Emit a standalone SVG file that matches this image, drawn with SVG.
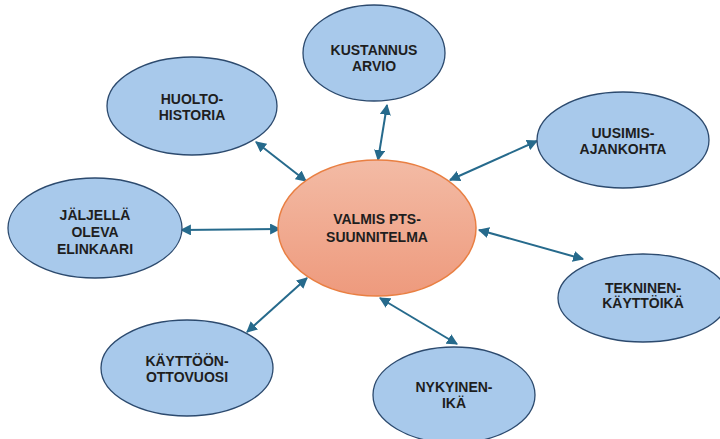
<svg xmlns="http://www.w3.org/2000/svg" width="720" height="439" viewBox="0 0 720 439">
<style>
.n{fill:#a8c9eb;stroke:#2c4a6e;stroke-width:1.3}
.t{font-family:"Liberation Sans",Arial,sans-serif;font-weight:bold;font-size:14px;fill:#1e1e1e;text-anchor:middle}
.c{stroke:#266a8c;stroke-width:2;fill:none;marker-start:url(#ah);marker-end:url(#ah)}
</style>
<defs>
<linearGradient id="g" x1="0" y1="0" x2="0" y2="1">
<stop offset="0" stop-color="#f3bba5"/>
<stop offset="1" stop-color="#ee9a7d"/>
</linearGradient>
<marker id="ah" viewBox="0 0 10 10" refX="9" refY="5" markerWidth="5.5" markerHeight="5.5" orient="auto-start-reverse" markerUnits="strokeWidth">
<path d="M0,0 L10,5 L0,10 z" fill="#266a8c"/>
</marker>
</defs>
<g id="connectors">
<line class="c" x1="378" y1="160" x2="387" y2="105"/>
<line class="c" x1="306" y1="181" x2="256" y2="142"/>
<line class="c" x1="450" y1="180" x2="537" y2="141"/>
<line class="c" x1="280" y1="229" x2="181" y2="230"/>
<line class="c" x1="479" y1="230" x2="583" y2="259"/>
<line class="c" x1="307" y1="278" x2="247" y2="332"/>
<line class="c" x1="380" y1="298" x2="457" y2="344"/>
</g>
<g id="center">
<ellipse cx="377" cy="228" rx="99" ry="68" fill="url(#g)" stroke="#e97f42" stroke-width="1.5"/>
<text class="t" x="377" y="224">VALMIS PTS-</text>
<text class="t" x="377" y="242">SUUNNITELMA</text>
</g>
<g id="kustannus">
<ellipse class="n" cx="374" cy="53" rx="71" ry="48"/>
<text class="t" x="374" y="55">KUSTANNUS</text>
<text class="t" x="374" y="71">ARVIO</text>
</g>
<g id="huolto">
<ellipse class="n" cx="192" cy="106" rx="85" ry="49"/>
<text class="t" x="192" y="104">HUOLTO-</text>
<text class="t" x="192" y="120">HISTORIA</text>
</g>
<g id="uusimis">
<ellipse class="n" cx="623" cy="140" rx="86" ry="48"/>
<text class="t" x="623" y="138">UUSIMIS-</text>
<text class="t" x="623" y="154">AJANKOHTA</text>
</g>
<g id="jaljella">
<ellipse class="n" cx="95" cy="228" rx="87" ry="50"/>
<text class="t" x="95" y="220">JÄLJELLÄ</text>
<text class="t" x="95" y="237">OLEVA</text>
<text class="t" x="95" y="254">ELINKAARI</text>
</g>
<g id="tekninen">
<ellipse class="n" cx="643" cy="298" rx="85" ry="44"/>
<text class="t" x="643" y="293">TEKNINEN-</text>
<text class="t" x="643" y="308">KÄYTTÖIKÄ</text>
</g>
<g id="kayttoon">
<ellipse class="n" cx="187" cy="368" rx="86" ry="48"/>
<text class="t" x="187" y="366">KÄYTTÖÖN-</text>
<text class="t" x="187" y="382">OTTOVUOSI</text>
</g>
<g id="nykyinen">
<ellipse class="n" cx="454" cy="395" rx="81" ry="48"/>
<text class="t" x="454" y="392">NYKYINEN-</text>
<text class="t" x="454" y="408">IKÄ</text>
</g>
</svg>
